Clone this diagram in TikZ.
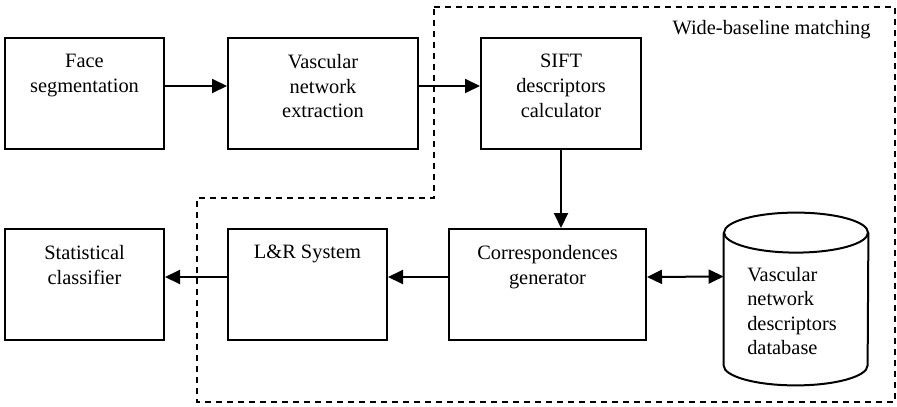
\documentclass[tikz,border=0pt]{standalone}
\usepackage{fontspec}
\setmainfont{Liberation Serif}
\usetikzlibrary{arrows.meta}
\tikzset{
		% blocks of the pipeline and their captions
		block/.style={rectangle,draw,line width=1pt,minimum height=55.5pt},
		caption/.style={align=center,inner sep=0pt,font=\rmfamily\fontsize{10.2}{12.3}\selectfont},
		store/.style={rectangle,inner sep=0pt,minimum width=72pt,minimum height=66pt},
		flow/.style={line width=1pt,-{Triangle[length=7.5pt,width=7pt]}},
		both flow/.style={line width=1pt,{Triangle[length=7.5pt,width=7pt]}-{Triangle[length=7.5pt,width=7pt]}},
		group/.style={line width=1pt,dash pattern=on 3pt off 2.5pt}
	}
\begin{document}
\begin{tikzpicture}[x=0.5pt,y=-0.5pt]
		\useasboundingbox (0,0) rectangle (897,406);
		% top row
		\node [block,minimum width=79.5pt] (face) at (84.5,93.5) {};
		\node [block,minimum width=95pt] (vasc) at (323,93.5) {};
		\node [block,minimum width=80pt] (sift) at (561,93.5) {};
		% bottom row
		\node [block,minimum width=79.5pt] (stat) at (84.5,284.5) {};
		\node [block,minimum width=79.5pt] (lr) at (307.5,284.5) {};
		\node [block,minimum width=98.5pt] (corr) at (547.5,284.5) {};
		% database drum
		\node [store] (db) at (796,299) {};
		\draw [line width=1pt] (db.north west) -- (db.south west)
			arc [start angle=180,end angle=360,x radius=36pt,y radius=10pt] -- (db.north east);
		\draw [line width=1pt] (db.north) ellipse [x radius=36pt,y radius=10pt];
		% captions
		\node [caption,anchor=north] (face-t) at ([yshift=-8.5pt]face.north) {Face\\segmentation};
		\node [caption,anchor=north] (vasc-t) at ([yshift=-8.5pt]vasc.north) {Vascular\\network\\extraction};
		\node [caption,anchor=north] (sift-t) at ([yshift=-8.5pt]sift.north) {SIFT\\descriptors\\calculator};
		\node [caption,anchor=north] (stat-t) at ([yshift=-8.5pt]stat.north) {Statistical\\classifier};
		\node [caption,anchor=north] (lr-t) at ([yshift=-8.5pt]lr.north) {L\&R System};
		\node [caption,anchor=north] (corr-t) at ([yshift=-8.5pt]corr.north) {Correspondences\\generator};
		\node [caption,align=left] (db-t) at (792,311) {Vascular\\network\\descriptors\\database};
		\node [caption,anchor=base east] (wbm) at (871,35) {Wide-baseline matching};
		% arrows
		\draw [flow] ([yshift=3.75pt]face.east) -- ([yshift=3.75pt]vasc.west);
		\draw [flow] ([yshift=3.75pt]vasc.east) -- ([yshift=3.75pt]sift.west);
		\draw [flow] (sift.south) -- (sift.south |- corr.north);
		\draw [flow] ([yshift=3.75pt]corr.west) -- ([yshift=3.75pt]lr.east);
		\draw [flow] ([yshift=3.75pt]lr.west) -- ([yshift=3.75pt]stat.east);
		\draw [both flow] ([yshift=3.75pt]corr.east) -- ([yshift=11.25pt]db.west);
		% matching stage
		\draw [group] (434,7) -- (895,7) -- (895,402) -- (197,402) -- (197,198) -- (434,198) -- cycle;
	\end{tikzpicture}
\end{document}
